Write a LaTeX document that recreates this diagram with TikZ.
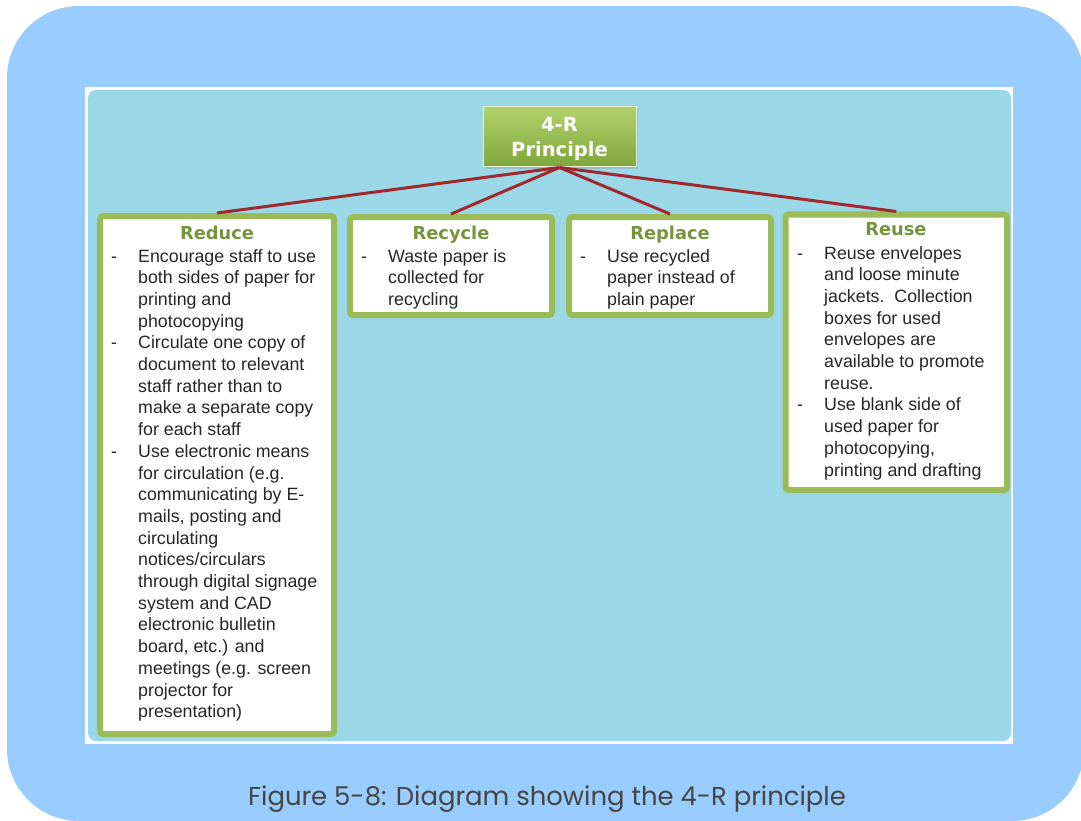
\documentclass[tikz,border=0pt]{standalone}
\usepackage{fontspec}
\setmainfont{Liberation Sans}
\newfontfamily\hdfont{DejaVu Sans}
\newfontfamily\capfont{Poppins}
\usetikzlibrary{shadows}
\definecolor{outerblue}{HTML}{99CCFF}
\definecolor{panelcyan}{HTML}{9AD8E8}
\definecolor{boxgreen}{HTML}{9BBB59}
\definecolor{titlegreen}{HTML}{77933C}
\definecolor{connred}{HTML}{A0282D}
\definecolor{bodytext}{HTML}{262626}
\definecolor{captext}{HTML}{454545}
\definecolor{topgreenA}{HTML}{B2D16C}
\definecolor{topgreenB}{HTML}{7FA53C}
\tikzset{
  rbox/.style={draw=boxgreen, line width=6pt, fill=white, rounded corners=3pt, inner sep=0pt, rectangle},
  boxtitle/.style={anchor=base, inner sep=0pt, text=titlegreen, font=\hdfont\bfseries\fontsize{17.8}{20}\selectfont},
  boxbody/.style={anchor=base west, inner sep=0pt, text=bodytext, font=\fontsize{17.8}{21.7}\selectfont},
  topbox/.style={rectangle, inner sep=0pt, top color=topgreenA, bottom color=topgreenB, draw=white!70!topgreenA, line width=1pt,
     drop shadow={opacity=0.25, shadow xshift=2pt, shadow yshift=-2pt}},
  toptext/.style={anchor=base, inner sep=0pt, text=white, font=\hdfont\bfseries\fontsize{19.5}{24}\selectfont},
  conn/.style={draw=connred, line width=3pt},
  caption/.style={anchor=base, inner sep=0pt, text=captext, font=\capfont\fontsize{25.9}{30}\selectfont}
}
\newcommand{\bl}[1]{\begin{tabular}[t]{@{}p{27pt}@{}l@{}}#1\end{tabular}}
\begin{document}
\begin{tikzpicture}[x=1pt, y=-1pt]
\useasboundingbox (0,0) rectangle (1081,821);
% outer frame
\fill[outerblue, rounded corners=72pt] (7,6) rectangle (1084,821);
% panel
\fill[white] (85,87) rectangle (1013,744);
\fill[panelcyan, rounded corners=8pt] (88,90) rectangle (1011,741);

% top box
\node[topbox, minimum width=153pt, minimum height=60pt] (top) at (559.5,137) {};
\node[toptext] (t1) at (559.5,132) {4-R};
\node[toptext] (t2) at (559.5,157) {Principle};

% boxes
\node[rbox, minimum width=234pt, minimum height=518pt] (reduce) at (217,475) {};
\node[rbox, minimum width=202pt, minimum height=98pt] (recycle) at (451,266) {};
\node[rbox, minimum width=202pt, minimum height=98pt] (replace) at (670,266) {};
\node[rbox, minimum width=221.5pt, minimum height=275.5pt] (reuse) at (896.25,352.25) {};

% connectors
\draw[conn] (top.south) -- (reduce.north);
\draw[conn] (top.south) -- (recycle.north);
\draw[conn] (top.south) -- (replace.north);
\draw[conn] (top.south) -- (reuse.north);

% titles
\node[boxtitle] (reduceT) at (217,239) {Reduce};
\node[boxtitle] (recycleT) at (451,239) {Recycle};
\node[boxtitle] (replaceT) at (670,239) {Replace};
\node[boxtitle] (reuseT) at (896,235) {Reuse};

% bodies
\node[boxbody] (reduceB) at (111,262) {\bl{
- & Encourage staff to use\\
  & both sides of paper for\\
  & printing and\\
  & photocopying\\
- & Circulate one copy of\\
  & document to relevant\\
  & staff rather than to\\
  & make a separate copy\\
  & for each staff\\
- & Use electronic means\\
  & for circulation (e.g.\\
  & communicating by E-\\
  & mails, posting and\\
  & circulating\\
  & notices/circulars\\
  & through digital signage\\
  & system and CAD\\
  & electronic bulletin\\
  & board, etc.) and\\
  & meetings (e.g. screen\\
  & projector for\\
  & presentation)}};
\node[boxbody] (recycleB) at (361,262) {\bl{
- & Waste paper is\\
  & collected for\\
  & recycling}};
\node[boxbody] (replaceB) at (580,262) {\bl{
- & Use recycled\\
  & paper instead of\\
  & plain paper}};
\node[boxbody] (reuseB) at (797,259) {\bl{
- & Reuse envelopes\\
  & and loose minute\\
  & jackets.\ \ Collection\\
  & boxes for used\\
  & envelopes are\\
  & available to promote\\
  & reuse.\\
- & Use blank side of\\
  & used paper for\\
  & photocopying,\\
  & printing and drafting}};

% caption
\node[caption] (cap) at (547,805) {Figure 5-8: Diagram showing the 4-R principle};
\end{tikzpicture}
\end{document}
